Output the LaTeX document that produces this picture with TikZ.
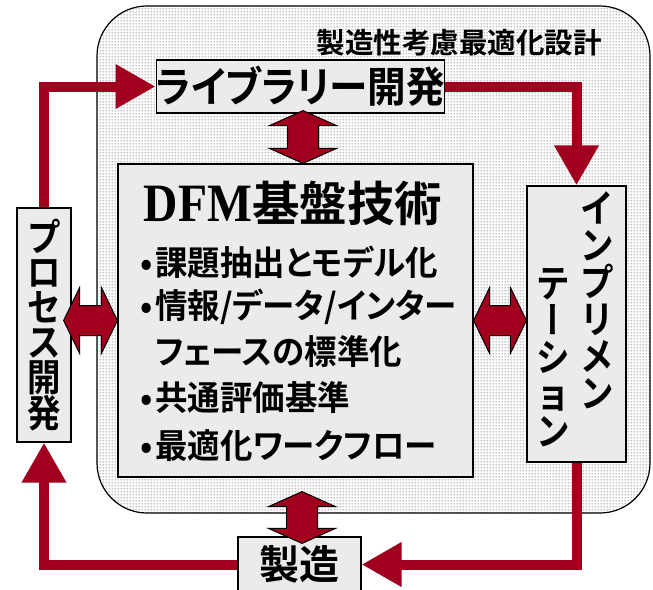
\documentclass[tikz,border=0pt]{standalone}
\usepackage{fontspec}
\usetikzlibrary{arrows.meta,calc,patterns}
\setmainfont{Liberation Serif}
\newfontfamily\jpA{Noto Sans CJK JP Bold}
\newfontfamily\jpB{Noto Sans CJK JP Bold}[FakeStretch=0.92,RawFeature=+palt]
\newfontfamily\jpC{Noto Sans CJK JP Bold}[FakeStretch=0.955,RawFeature=+palt]
\newfontfamily\jpV{Noto Sans CJK JP Bold}[FakeStretch=0.88]
\newfontfamily\jpVbar{Noto Sans CJK JP Bold}[FakeStretch=0.88,RawFeature=+vert]
\newfontfamily\dfmfont{Liberation Serif Bold}[FakeStretch=0.88]
\definecolor{dred}{HTML}{A0001E}
\definecolor{boxgray}{HTML}{EBEBEB}
\definecolor{dotgray}{HTML}{858585}
\pgfdeclarepatternformonly{bigdots}{\pgfpointorigin}{\pgfpoint{3pt}{3pt}}{\pgfpoint{3pt}{3pt}}%
  {\pgfpathcircle{\pgfpoint{1.5pt}{1.5pt}}{0.85pt}\pgfusepath{fill}}
\tikzset{
  boxn/.style={draw=black, line width=1.2pt, fill=boxgray, inner sep=0pt},
  txt/.style={inner sep=0pt},
  redline/.style={draw=dred, line width=10pt, -{Triangle[length=40pt,width=42pt]}},
  fat/.style={fill=dred, draw=black, line width=1pt, line join=miter},
  outerbox/.style={draw=black, line width=1.2pt, rounded corners=50pt,
    preaction={fill=white}, pattern=bigdots, pattern color=dotgray},
}
\newcommand\fatvert[2]{\draw[fat] let \p1=#1, \p2=#2 in
  (\x1,\y1) -- (\x1+33.5pt,\y1-15pt) -- (\x1+15.5pt,\y1-15pt) -- (\x1+15.5pt,\y2+15pt)
  -- (\x1+33.5pt,\y2+15pt) -- (\x1,\y2) -- (\x1-33.5pt,\y2+15pt) -- (\x1-15.5pt,\y2+15pt)
  -- (\x1-15.5pt,\y1-15pt) -- (\x1-33.5pt,\y1-15pt) -- cycle;}
\newcommand\fathorz[2]{\draw[fat] let \p1=#1, \p2=#2 in
  (\x1,\y1) -- (\x1+16pt,\y1+33pt) -- (\x1+16pt,\y1+15pt) -- (\x2-16pt,\y1+15pt)
  -- (\x2-16pt,\y1+33pt) -- (\x2,\y1) -- (\x2-16pt,\y1-33pt) -- (\x2-16pt,\y1-15pt)
  -- (\x1+16pt,\y1-15pt) -- (\x1+16pt,\y1-33pt) -- cycle;}
\begin{document}
\begin{tikzpicture}[x=1pt,y=-1pt]
\useasboundingbox (0,0) rectangle (653,589);
% outer region
\node[outerbox, minimum width=553pt, minimum height=507pt] (outer) at (373.5,259.5) {};
\node[txt, font={\jpA\fontsize{28.5}{28.5}\selectfont}] (title) at (459,43) {製造性考慮最適化設計};
% boxes
\node[boxn, minimum width=273pt, minimum height=53pt, font={\jpB\fontsize{42}{42}\selectfont}] (lib) at (300.5,86.5) {ライブラリー開発};
\node[boxn, minimum width=355pt, minimum height=313pt] (dfm) at (295.5,320.5) {};
\node[boxn, minimum width=54pt, minimum height=234pt] (proc) at (44,325) {};
\node[boxn, minimum width=99pt, minimum height=276pt] (imp) at (576.5,324) {};
\node[boxn, minimum width=123pt, minimum height=55pt, font={\jpA\fontsize{40}{40}\selectfont}] (seizo) at (299.5,564.5) {製造};
% texts
\node[txt] (dfmt) at (293,203) {{\dfmfont\fontsize{54}{54}\selectfont DFM}{\jpA\fontsize{47.5}{47.5}\selectfont 基盤技術}};
\tikzset{bl/.style={txt, anchor=west, font={\jpC\fontsize{34}{34}\selectfont}}}
\newcommand\bul{\makebox[18pt][c]{•}}
\node[bl] (b1) at (137,262) {\bul 課題抽出とモデル化};
\node[bl] (b2) at (137,307) {\bul 情報/データ/インター};
\node[bl] (b2b) at (155,352) {フェースの標準化};
\node[bl] (b3) at (137,398) {\bul 共通評価基準};
\node[bl] (b4) at (137,446) {\bul 最適化ワークフロー};
\node[txt, align=center, font={\jpV\fontsize{38}{35}\selectfont}] (proct) at (proc) {プ\\ロ\\セ\\ス\\開\\発};
\node[txt, align=center, font={\jpV\fontsize{38}{37}\selectfont}] (imp1) at (597,300.5) {イ\\ン\\プ\\リ\\メ\\ン};
\node[txt, align=center, font={\jpV\fontsize{38}{37}\selectfont}] (imp2) at (553,357.5) {テ\\{\jpVbar ー}\\シ\\ョ\\ン};
% red connectors
\draw[redline] (proc.north) |- (lib.west);
\draw[redline] (lib.east) -| (imp.north);
\draw[redline] (imp.south) |- (seizo.east);
\draw[redline] (seizo.west) -| (proc.south);
% fat double arrows
\fatvert{($(lib.south)+(2.5,-3)$)}{($(lib.south |- dfm.north)+(2.5,0)$)}
\fatvert{($(outer.south -| seizo.north)+(2.5,-22)$)}{($(seizo.north)+(2.5,7)$)}
\fathorz{($(proc.east |- dfm.west)+(-8,0)$)}{(dfm.west)}
\fathorz{(dfm.east)}{(imp.west |- dfm.east)}
\end{tikzpicture}
\end{document}
